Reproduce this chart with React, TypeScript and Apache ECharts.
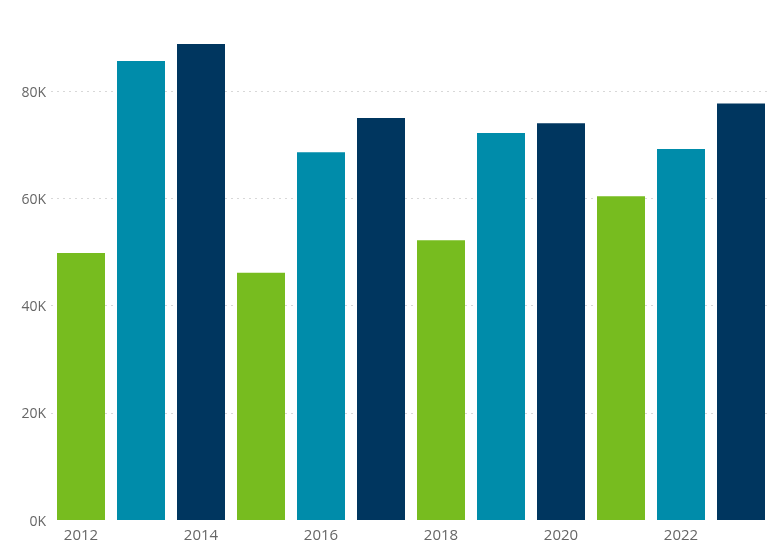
import React, { useEffect, useRef } from "react";
import * as echarts from "echarts";

const years = ["2012", "2013", "2014", "2015", "2016", "2017", "2018", "2019", "2020", "2021", "2022", "2023"];
const values = [49800, 85600, 88800, 46100, 68600, 75000, 52200, 72200, 74000, 60400, 69200, 77700];
const yTicks = [0, 20000, 40000, 60000, 80000];
const yMax = 97000;
const palette = ["#77BC1F", "#008CAA", "#00365F"];

export default function App() {
  const ref = useRef<HTMLDivElement>(null);
  useEffect(() => {
    if (!ref.current) return;
    const chart = echarts.init(ref.current, null, { renderer: "svg" });
    chart.setOption({
      animation: false,
      grid: { left: 51, right: 12, top: 0, bottom: 36, containLabel: false },
      xAxis: {
        type: "category",
        data: years,
        axisLine: { show: false },
        axisTick: { show: false },
        axisLabel: {
          interval: 1,
          color: "#666",
          fontSize: 15,
          fontFamily: "Open Sans, Noto Sans, sans-serif",
          margin: 6,
        },
      },
      yAxis: {
        type: "value",
        min: 0,
        max: yMax,
        interval: yTicks[1] - yTicks[0],
        axisLine: { show: false },
        axisTick: { show: false },
        axisLabel: {
          showMaxLabel: false,
          color: "#666",
          fontSize: 14,
          fontFamily: "Open Sans, Noto Sans, sans-serif",
          margin: 5,
          formatter: (v: number) => (yTicks.indexOf(v) >= 0 ? `${Math.round(v / 1000)}K` : ""),
        },
        splitLine: { show: false },
      },
      series: [
        {
          type: "bar",
          data: values,
          barCategoryGap: "20%",
          z: 3,
          itemStyle: { color: (p: any) => palette[p.dataIndex % palette.length] },
          markLine: {
            silent: true,
            symbol: "none",
            z: 1,
            label: { show: false },
            lineStyle: { type: [2, 4], color: "#d8d8d8", width: 1 },
            data: yTicks.slice(1).map((v) => ({ yAxis: v })),
          },
        },
      ],
    });
    return () => chart.dispose();
  }, []);
  return (
    <div
      ref={ref}
      style={{ position: "fixed", left: 0, top: 0, width: 783, height: 556 }}
    />
  );
}
